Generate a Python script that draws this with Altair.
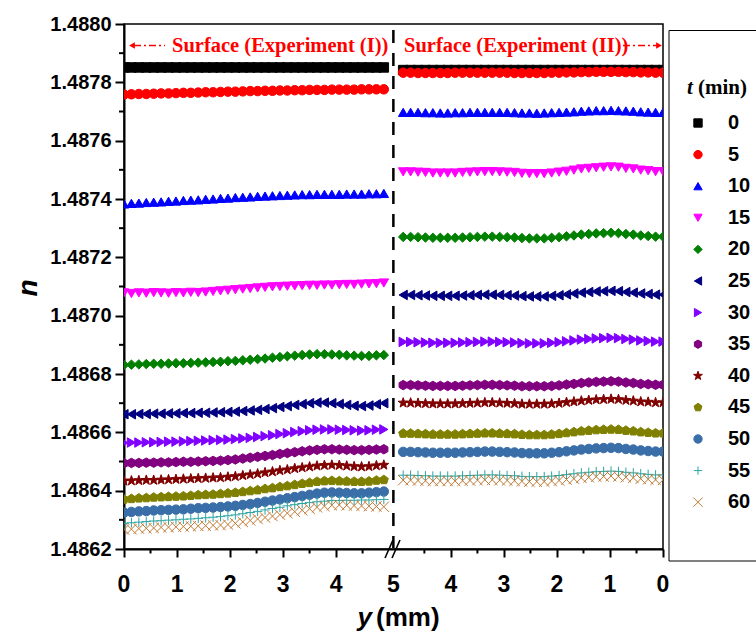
import altair as alt
import pandas as pd

# ---------------- data ----------------
y_mm = [0.00, 0.14, 0.28, 0.42, 0.56, 0.70, 0.84, 0.98, 1.12, 1.26, 1.40, 1.54,
        1.68, 1.82, 1.96, 2.10, 2.24, 2.38, 2.52, 2.66, 2.80, 2.94, 3.08, 3.22,
        3.36, 3.50, 3.64, 3.78, 3.92, 4.06, 4.20, 4.34, 4.48, 4.62, 4.76, 4.90]

t_labels = ["0", "5", "10", "15", "20", "25", "30", "35", "40", "45", "50", "55", "60"]

# Experiment (I): values listed for y = 0 -> 4.9 mm
L0 = [1.487851, 1.487851, 1.487851, 1.487851, 1.487851, 1.487851, 1.487851, 1.487851, 1.487851, 1.487851,
      1.487851, 1.487851, 1.487851, 1.487851, 1.487851, 1.487851, 1.487851, 1.487851, 1.487851, 1.487851,
      1.487851, 1.487851, 1.487851, 1.487851, 1.487851, 1.487851, 1.487851, 1.487851, 1.487851, 1.487851,
      1.487851, 1.487851, 1.487851, 1.487851, 1.487851, 1.487851]
L5 = [1.487758, 1.487759, 1.487760, 1.487760, 1.487761, 1.487762, 1.487762, 1.487763, 1.487764, 1.487764,
      1.487765, 1.487766, 1.487766, 1.487767, 1.487768, 1.487768, 1.487769, 1.487770, 1.487770, 1.487771,
      1.487771, 1.487772, 1.487772, 1.487773, 1.487773, 1.487774, 1.487774, 1.487774, 1.487775, 1.487775,
      1.487775, 1.487775, 1.487776, 1.487776, 1.487776, 1.487776]
L10 = [1.487383, 1.487385, 1.487386, 1.487388, 1.487389, 1.487390, 1.487392, 1.487393, 1.487395, 1.487396,
       1.487397, 1.487399, 1.487400, 1.487402, 1.487403, 1.487405, 1.487406, 1.487407, 1.487409, 1.487410,
       1.487411, 1.487412, 1.487413, 1.487414, 1.487415, 1.487415, 1.487416, 1.487416, 1.487416, 1.487416,
       1.487417, 1.487417, 1.487417, 1.487418, 1.487418, 1.487419]
L15 = [1.487078, 1.487076, 1.487078, 1.487077, 1.487079, 1.487078, 1.487077, 1.487079, 1.487078, 1.487080,
       1.487079, 1.487081, 1.487083, 1.487085, 1.487087, 1.487089, 1.487091, 1.487093, 1.487095, 1.487097,
       1.487099, 1.487100, 1.487101, 1.487102, 1.487103, 1.487104, 1.487104, 1.487105, 1.487105, 1.487106,
       1.487107, 1.487107, 1.487108, 1.487109, 1.487110, 1.487112]
L20 = [1.486831, 1.486832, 1.486833, 1.486834, 1.486835, 1.486835, 1.486836, 1.486837, 1.486837, 1.486838,
       1.486839, 1.486840, 1.486841, 1.486842, 1.486844, 1.486845, 1.486847, 1.486849, 1.486851, 1.486853,
       1.486856, 1.486858, 1.486861, 1.486863, 1.486865, 1.486867, 1.486868, 1.486868, 1.486867, 1.486866,
       1.486864, 1.486863, 1.486862, 1.486862, 1.486864, 1.486865]
L25 = [1.486662, 1.486662, 1.486663, 1.486663, 1.486664, 1.486664, 1.486665, 1.486665, 1.486666, 1.486666,
       1.486667, 1.486667, 1.486668, 1.486669, 1.486670, 1.486671, 1.486673, 1.486675, 1.486677, 1.486680,
       1.486683, 1.486687, 1.486690, 1.486694, 1.486697, 1.486700, 1.486702, 1.486702, 1.486700, 1.486697,
       1.486694, 1.486691, 1.486690, 1.486692, 1.486696, 1.486700]
L30 = [1.486564, 1.486565, 1.486565, 1.486566, 1.486566, 1.486567, 1.486568, 1.486568, 1.486569, 1.486570,
       1.486571, 1.486572, 1.486573, 1.486574, 1.486575, 1.486577, 1.486579, 1.486581, 1.486584, 1.486587,
       1.486590, 1.486594, 1.486597, 1.486601, 1.486604, 1.486607, 1.486609, 1.486610, 1.486610, 1.486609,
       1.486608, 1.486607, 1.486606, 1.486607, 1.486609, 1.486610]
L35 = [1.486494, 1.486495, 1.486495, 1.486496, 1.486496, 1.486497, 1.486497, 1.486498, 1.486499, 1.486499,
       1.486500, 1.486501, 1.486502, 1.486503, 1.486505, 1.486507, 1.486510, 1.486513, 1.486516, 1.486519,
       1.486522, 1.486526, 1.486529, 1.486532, 1.486535, 1.486538, 1.486540, 1.486542, 1.486542, 1.486541,
       1.486540, 1.486539, 1.486539, 1.486540, 1.486541, 1.486542]
L40 = [1.486433, 1.486434, 1.486435, 1.486436, 1.486436, 1.486437, 1.486438, 1.486439, 1.486440, 1.486441,
       1.486442, 1.486443, 1.486444, 1.486445, 1.486447, 1.486449, 1.486452, 1.486455, 1.486458, 1.486462,
       1.486465, 1.486469, 1.486472, 1.486476, 1.486479, 1.486482, 1.486485, 1.486487, 1.486488, 1.486487,
       1.486485, 1.486483, 1.486482, 1.486483, 1.486486, 1.486488]
L45 = [1.486370, 1.486372, 1.486374, 1.486375, 1.486377, 1.486378, 1.486379, 1.486380, 1.486381, 1.486383,
       1.486385, 1.486386, 1.486387, 1.486389, 1.486391, 1.486393, 1.486396, 1.486399, 1.486402, 1.486406,
       1.486409, 1.486413, 1.486416, 1.486420, 1.486424, 1.486427, 1.486431, 1.486433, 1.486434, 1.486433,
       1.486432, 1.486431, 1.486431, 1.486432, 1.486435, 1.486437]
L50 = [1.486325, 1.486327, 1.486329, 1.486330, 1.486332, 1.486333, 1.486334, 1.486335, 1.486336, 1.486338,
       1.486340, 1.486341, 1.486342, 1.486344, 1.486346, 1.486348, 1.486351, 1.486354, 1.486358, 1.486362,
       1.486366, 1.486370, 1.486374, 1.486378, 1.486382, 1.486386, 1.486390, 1.486393, 1.486394, 1.486393,
       1.486392, 1.486391, 1.486391, 1.486393, 1.486395, 1.486397]
L55 = [1.486288, 1.486290, 1.486292, 1.486294, 1.486296, 1.486297, 1.486299, 1.486300, 1.486302, 1.486303,
       1.486305, 1.486307, 1.486309, 1.486311, 1.486314, 1.486317, 1.486321, 1.486325, 1.486329, 1.486334,
       1.486339, 1.486343, 1.486348, 1.486352, 1.486356, 1.486359, 1.486362, 1.486364, 1.486366, 1.486366,
       1.486367, 1.486367, 1.486368, 1.486368, 1.486369, 1.486370]
L60 = [1.486267, 1.486268, 1.486270, 1.486271, 1.486272, 1.486274, 1.486275, 1.486276, 1.486277, 1.486278,
       1.486279, 1.486280, 1.486281, 1.486282, 1.486284, 1.486288, 1.486293, 1.486298, 1.486303, 1.486308,
       1.486313, 1.486318, 1.486323, 1.486328, 1.486333, 1.486338, 1.486343, 1.486347, 1.486350, 1.486351,
       1.486350, 1.486349, 1.486348, 1.486347, 1.486346, 1.486345]

# Experiment (II): values listed left-to-right on screen, i.e. y = 4.9 -> 0 mm
R0 = [1.487842, 1.487842, 1.487842, 1.487842, 1.487842, 1.487842, 1.487842, 1.487842, 1.487842, 1.487842,
      1.487842, 1.487842, 1.487842, 1.487842, 1.487842, 1.487842, 1.487842, 1.487842, 1.487842, 1.487842,
      1.487842, 1.487842, 1.487842, 1.487842, 1.487842, 1.487842, 1.487842, 1.487842, 1.487842, 1.487842,
      1.487842, 1.487842, 1.487842, 1.487842, 1.487842, 1.487842]
R5 = [1.487833, 1.487833, 1.487832, 1.487832, 1.487832, 1.487832, 1.487832, 1.487833, 1.487833, 1.487833,
      1.487833, 1.487833, 1.487833, 1.487833, 1.487833, 1.487832, 1.487832, 1.487832, 1.487832, 1.487832,
      1.487833, 1.487833, 1.487834, 1.487834, 1.487835, 1.487835, 1.487836, 1.487836, 1.487836, 1.487836,
      1.487835, 1.487835, 1.487834, 1.487834, 1.487833, 1.487833]
R10 = [1.487697, 1.487697, 1.487697, 1.487696, 1.487696, 1.487695, 1.487695, 1.487696, 1.487696, 1.487697,
       1.487697, 1.487697, 1.487697, 1.487697, 1.487697, 1.487696, 1.487695, 1.487695, 1.487694, 1.487695,
       1.487696, 1.487697, 1.487698, 1.487699, 1.487701, 1.487702, 1.487703, 1.487703, 1.487704, 1.487703,
       1.487702, 1.487701, 1.487699, 1.487698, 1.487697, 1.487697]
R15 = [1.487493, 1.487493, 1.487492, 1.487491, 1.487489, 1.487489, 1.487489, 1.487489, 1.487491, 1.487492,
       1.487493, 1.487494, 1.487494, 1.487493, 1.487492, 1.487491, 1.487488, 1.487487, 1.487487, 1.487487,
       1.487489, 1.487492, 1.487495, 1.487499, 1.487503, 1.487505, 1.487507, 1.487509, 1.487510, 1.487509,
       1.487505, 1.487503, 1.487499, 1.487497, 1.487494, 1.487494]
R20 = [1.487270, 1.487270, 1.487269, 1.487268, 1.487267, 1.487267, 1.487267, 1.487267, 1.487268, 1.487269,
       1.487270, 1.487271, 1.487271, 1.487270, 1.487269, 1.487268, 1.487266, 1.487265, 1.487265, 1.487265,
       1.487267, 1.487269, 1.487272, 1.487275, 1.487278, 1.487280, 1.487282, 1.487283, 1.487284, 1.487283,
       1.487280, 1.487278, 1.487275, 1.487273, 1.487271, 1.487271]
R25 = [1.487071, 1.487071, 1.487070, 1.487069, 1.487068, 1.487068, 1.487068, 1.487068, 1.487069, 1.487070,
       1.487071, 1.487072, 1.487072, 1.487071, 1.487070, 1.487069, 1.487067, 1.487066, 1.487066, 1.487066,
       1.487068, 1.487070, 1.487073, 1.487076, 1.487079, 1.487081, 1.487083, 1.487084, 1.487085, 1.487084,
       1.487081, 1.487079, 1.487076, 1.487074, 1.487072, 1.487072]
R30 = [1.486910, 1.486910, 1.486909, 1.486908, 1.486907, 1.486907, 1.486907, 1.486907, 1.486908, 1.486909,
       1.486910, 1.486911, 1.486911, 1.486910, 1.486909, 1.486908, 1.486906, 1.486905, 1.486905, 1.486905,
       1.486907, 1.486909, 1.486912, 1.486915, 1.486918, 1.486920, 1.486922, 1.486923, 1.486924, 1.486923,
       1.486920, 1.486918, 1.486915, 1.486913, 1.486911, 1.486911]
R35 = [1.486762, 1.486762, 1.486761, 1.486760, 1.486759, 1.486759, 1.486759, 1.486759, 1.486760, 1.486761,
       1.486762, 1.486763, 1.486763, 1.486762, 1.486761, 1.486760, 1.486758, 1.486758, 1.486758, 1.486758,
       1.486759, 1.486761, 1.486764, 1.486766, 1.486769, 1.486771, 1.486773, 1.486774, 1.486775, 1.486774,
       1.486771, 1.486769, 1.486766, 1.486765, 1.486763, 1.486763]
R40 = [1.486701, 1.486701, 1.486700, 1.486699, 1.486698, 1.486698, 1.486698, 1.486698, 1.486699, 1.486700,
       1.486701, 1.486702, 1.486702, 1.486701, 1.486700, 1.486699, 1.486697, 1.486697, 1.486697, 1.486697,
       1.486698, 1.486700, 1.486703, 1.486705, 1.486708, 1.486710, 1.486712, 1.486713, 1.486714, 1.486713,
       1.486710, 1.486708, 1.486705, 1.486704, 1.486702, 1.486702]
R45 = [1.486596, 1.486596, 1.486595, 1.486594, 1.486593, 1.486593, 1.486593, 1.486593, 1.486594, 1.486595,
       1.486596, 1.486597, 1.486597, 1.486596, 1.486595, 1.486594, 1.486592, 1.486591, 1.486591, 1.486591,
       1.486593, 1.486595, 1.486598, 1.486601, 1.486604, 1.486606, 1.486608, 1.486609, 1.486610, 1.486609,
       1.486606, 1.486604, 1.486601, 1.486599, 1.486597, 1.486597]
R50 = [1.486533, 1.486533, 1.486532, 1.486531, 1.486530, 1.486530, 1.486530, 1.486530, 1.486531, 1.486532,
       1.486533, 1.486534, 1.486534, 1.486533, 1.486532, 1.486531, 1.486529, 1.486528, 1.486528, 1.486528,
       1.486530, 1.486532, 1.486535, 1.486538, 1.486541, 1.486543, 1.486545, 1.486546, 1.486547, 1.486546,
       1.486543, 1.486541, 1.486538, 1.486536, 1.486534, 1.486534]
R55 = [1.486453, 1.486453, 1.486452, 1.486451, 1.486450, 1.486450, 1.486450, 1.486450, 1.486451, 1.486452,
       1.486453, 1.486454, 1.486454, 1.486453, 1.486452, 1.486451, 1.486449, 1.486448, 1.486448, 1.486448,
       1.486450, 1.486452, 1.486455, 1.486458, 1.486461, 1.486463, 1.486465, 1.486466, 1.486467, 1.486466,
       1.486463, 1.486461, 1.486458, 1.486456, 1.486454, 1.486454]
R60 = [1.486436, 1.486436, 1.486435, 1.486434, 1.486433, 1.486433, 1.486433, 1.486433, 1.486434, 1.486435,
       1.486436, 1.486437, 1.486437, 1.486436, 1.486435, 1.486434, 1.486432, 1.486431, 1.486431, 1.486431,
       1.486433, 1.486435, 1.486438, 1.486441, 1.486444, 1.486446, 1.486448, 1.486449, 1.486450, 1.486449,
       1.486446, 1.486444, 1.486441, 1.486439, 1.486437, 1.486437]

y_major_ticks = [1.4862, 1.4864, 1.4866, 1.4868, 1.4870, 1.4872, 1.4874, 1.4876, 1.4878, 1.4880]
y_minor_ticks = [1.4863, 1.4865, 1.4867, 1.4869, 1.4871, 1.4873, 1.4875, 1.4877, 1.4879]
x_left_major = [0, 1, 2, 3, 4]
x_left_minor = [0.5, 1.5, 2.5, 3.5, 4.5]
x_right_major_mm = [4, 3, 2, 1, 0]
x_right_minor_mm = [4.5, 3.5, 2.5, 1.5, 0.5]
x_tick_labels = ["0", "1", "2", "3", "4", "5", "4", "3", "2", "1", "0"]

# ---------------- styles ----------------
colors = ["#000000", "#FF0000", "#0000FF", "#FF00FF", "#008000", "#000080", "#8000FF",
          "#800080", "#800000", "#808000", "#3A6EA8", "#2CA3A3", "#C07A35"]
HEX = "M0,-1L0.866,-0.5L0.866,0.5L0,1L-0.866,0.5L-0.866,-0.5Z"
STAR = ("M0,-1.1L0.26,-0.36L1.05,-0.34L0.42,0.14L0.65,0.89L0,0.44L-0.65,0.89"
        "L-0.42,0.14L-1.05,-0.34L-0.26,-0.36Z")
PENT = "M0,-1L0.951,-0.309L0.588,0.809L-0.588,0.809L-0.951,-0.309Z"
PLUS = "M-1,0L1,0M0,-1L0,1"
XMARK = "M-1.1,-1.1L1.1,1.1M-1.1,1.1L1.1,-1.1"
shapes = ["square", "circle", "triangle-up", "triangle-down", "diamond", "triangle-left",
          "triangle-right", HEX, STAR, PENT, "circle", PLUS, XMARK]

SANS = "Liberation Sans, Arial, sans-serif"
SERIF = "Liberation Serif, Times New Roman, serif"

RIGHT_ORIGIN = 10.165   # plot position of y = 0 mm of Experiment (II)
BREAK_POS = 5.08        # plot position of the axis break

lefts = [L0, L5, L10, L15, L20, L25, L30, L35, L40, L45, L50, L55, L60]
rights = [R0, R5, R10, R15, R20, R25, R30, R35, R40, R45, R50, R55, R60]
rows = []
for t, L, R in zip(t_labels, lefts, rights):
    for y, v in zip(y_mm, L):
        rows.append({"t": t, "p": y, "n": v})
    for y, v in zip(list(reversed(y_mm)), R):
        rows.append({"t": t, "p": RIGHT_ORIGIN - y, "n": v})
df = pd.DataFrame(rows)

x_major = x_left_major + [BREAK_POS] + [RIGHT_ORIGIN - v for v in x_right_major_mm]
x_minor = x_left_minor + [RIGHT_ORIGIN - v for v in x_right_minor_mm]
x_lab_df = pd.DataFrame({"pos": x_major, "lab": x_tick_labels})

x_scale = alt.Scale(domain=[0, RIGHT_ORIGIN], nice=False, zero=False)
y_scale = alt.Scale(domain=[1.4862, 1.4880], nice=False, zero=False)

x_axis = alt.Axis(
    values=x_major, labels=False, title=None, grid=False, tickSize=8,
    tickOpacity={"condition": {"test": "datum.value > 5 && datum.value < 5.2", "value": 0}, "value": 1},
    tickColor="black", tickWidth=2, domainColor="black", domainWidth=2,
)
y_axis = alt.Axis(
    values=y_major_ticks, format=".4f", title=None, grid=False, tickSize=9,
    labelFont=SANS, labelFontSize=20, labelFontWeight="bold", labelColor="black",
    labelPadding=4, labelOverlap=False, labelFlush=False,
    tickColor="black", tickWidth=2, domainColor="black", domainWidth=2,
)

legend = alt.Legend(
    title=None, orient="none", legendX=564, legendY=89,
    labelFont=SANS, labelFontSize=20, labelFontWeight="bold", labelColor="black",
    symbolSize=70, symbolStrokeWidth=1, rowPadding=11.6, labelOffset=20, padding=0,
)

points = alt.Chart(df).mark_point(filled=True, opacity=1, size=90, strokeWidth=1, clip=True).encode(
    x=alt.X("p:Q", scale=x_scale, axis=x_axis),
    y=alt.Y("n:Q", scale=y_scale, axis=y_axis),
    fill=alt.Fill("t:N", scale=alt.Scale(domain=t_labels, range=colors), legend=legend),
    stroke=alt.Stroke("t:N", scale=alt.Scale(domain=t_labels, range=colors), legend=legend),
    shape=alt.Shape("t:N", scale=alt.Scale(domain=t_labels, range=shapes), legend=legend),
)

# minor ticks (outward, half length)
x_minor_ticks = alt.Chart(pd.DataFrame({"v": x_minor})).mark_rule(color="black", strokeWidth=2).encode(
    x=alt.X("v:Q", scale=x_scale, axis=x_axis), y=alt.value(525), y2=alt.value(529.5)
)
y_minor = alt.Chart(pd.DataFrame({"v": y_minor_ticks})).mark_rule(color="black", strokeWidth=2).encode(
    y=alt.Y("v:Q", scale=y_scale, axis=y_axis), x=alt.value(0), x2=alt.value(-5)
)
# x tick labels
x_labels = alt.Chart(x_lab_df).mark_text(font=SANS, fontSize=23, fontWeight="bold", color="black",
                                         align="center", baseline="middle").encode(
    x=alt.X("pos:Q", scale=x_scale, axis=x_axis), y=alt.value(561), text="lab:N"
)

one = pd.DataFrame({"k": [0]})
base = alt.Chart(one)

divider = base.mark_rule(color="black", strokeWidth=2.5, strokeDash=[13, 10]).encode(
    x=alt.datum(BREAK_POS, scale=x_scale), y=alt.value(6), y2=alt.value(524)
)
slash1 = base.mark_rule(color="black", strokeWidth=1.6).encode(
    x=alt.value(261), x2=alt.value(269), y=alt.value(534), y2=alt.value(516)
)
slash2 = base.mark_rule(color="black", strokeWidth=1.6).encode(
    x=alt.value(268), x2=alt.value(276), y=alt.value(534), y2=alt.value(516)
)

legend_box = base.mark_rect(fillOpacity=0, stroke="black", strokeWidth=1).encode(
    x=alt.value(545), x2=alt.value(720), y=alt.value(6.5), y2=alt.value(537)
)

RED = "#FF0000"
ann1 = base.mark_text(text="Surface (Experiment (I))", font=SERIF, fontSize=20.5, fontWeight="bold",
                      color=RED, align="left", baseline="alphabetic").encode(
    x=alt.value(48), y=alt.value(28))
ann2 = base.mark_text(text="Surface (Experiment (II))", font=SERIF, fontSize=20.5, fontWeight="bold",
                      color=RED, align="left", baseline="alphabetic").encode(
    x=alt.value(280), y=alt.value(28))
arrow1 = base.mark_rule(color=RED, strokeWidth=1.3, strokeDash=[7, 3, 2, 3]).encode(
    x=alt.value(10), x2=alt.value(41), y=alt.value(21.5))
head1 = base.mark_point(shape="triangle-left", filled=True, color=RED, size=45, opacity=1).encode(
    x=alt.value(8), y=alt.value(21.5))
arrow2 = base.mark_rule(color=RED, strokeWidth=1.3, strokeDash=[7, 3, 2, 3]).encode(
    x=alt.value(499), x2=alt.value(533), y=alt.value(21.5))
head2 = base.mark_point(shape="triangle-right", filled=True, color=RED, size=45, opacity=1).encode(
    x=alt.value(535), y=alt.value(21.5))

n_title = base.mark_text(text="n", font=SANS, fontSize=28,
                         fontWeight="bold", fontStyle="italic", angle=270, color="black",
                         align="center", baseline="middle").encode(x=alt.value(-95), y=alt.value(264))
y_title1 = base.mark_text(text="y", font=SANS, fontSize=26, fontWeight="bold", fontStyle="italic",
                          color="black", align="right", baseline="alphabetic").encode(
    x=alt.value(248), y=alt.value(602))
y_title2 = base.mark_text(text="(mm)", font=SANS, fontSize=26, fontWeight="bold",
                          color="black", align="left", baseline="alphabetic").encode(
    x=alt.value(252), y=alt.value(602))
t_title1 = base.mark_text(text="t", font=SERIF, fontSize=21, fontWeight="bold", fontStyle="italic",
                          color="black", align="left", baseline="alphabetic").encode(
    x=alt.value(563), y=alt.value(70))
t_title2 = base.mark_text(text="(min)", font=SERIF, fontSize=21, fontWeight="bold",
                          color="black", align="left", baseline="alphabetic").encode(
    x=alt.value(574), y=alt.value(70))

chart = alt.layer(
    points, x_minor_ticks, y_minor, x_labels, divider, slash1, slash2, legend_box,
    arrow1, head1, arrow2, head2,
    ann1, ann2, n_title, y_title1, y_title2, t_title1, t_title2,
).properties(
    width=539, height=525,
    autosize=alt.AutoSizeParams(type="none"),
    padding={"left": 124, "top": 24, "right": 93, "bottom": 84},
).configure_view(stroke="black", strokeWidth=1.5)

chart.save("out.html", embed_options={"renderer": "svg", "actions": False})
